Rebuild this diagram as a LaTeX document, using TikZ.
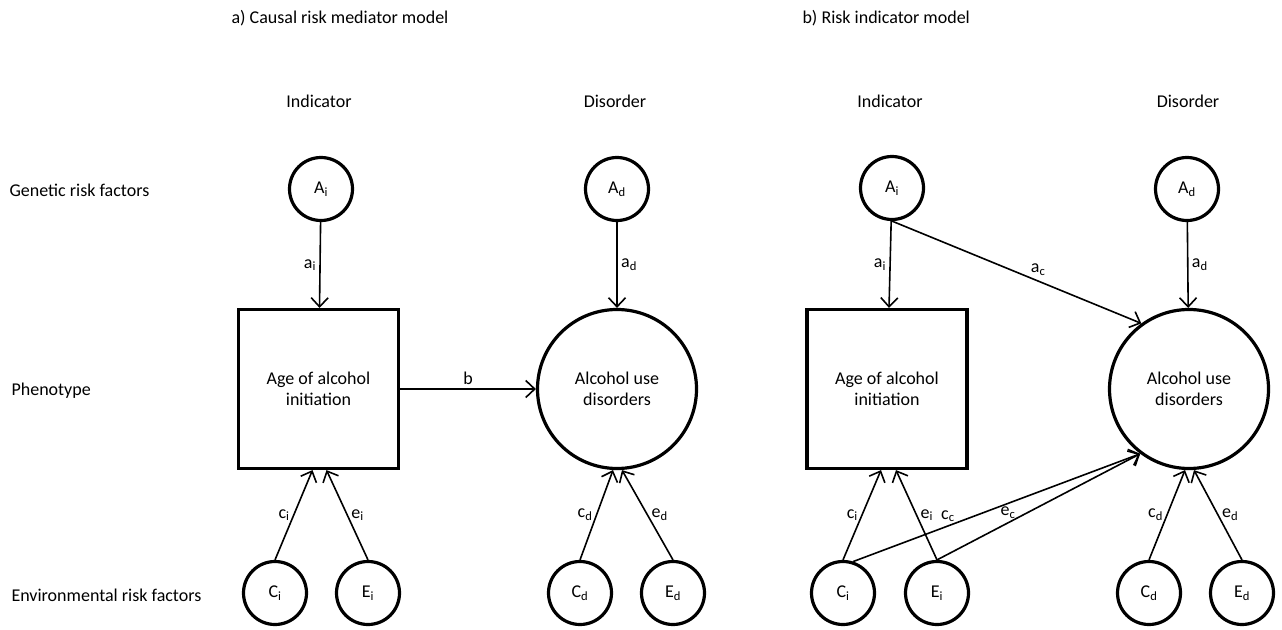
\documentclass[tikz,border=0pt]{standalone}
\usepackage{fontspec}
\setmainfont{Carlito}
\usetikzlibrary{arrows.meta}

\begin{document}
\begin{tikzpicture}[x=1pt,y=-1pt,font=\fontsize{18}{21.5}\selectfont]
\tikzset{
	f/.style={circle, draw=black, line width=3.2pt, minimum size=63pt, inner sep=0pt},
	ph/.style={draw=black, line width=3.2pt, minimum width=160pt, minimum height=159pt, align=center},
	big/.style={circle, draw=black, line width=3.2pt, minimum size=159pt, inner sep=0pt, align=center},
	p/.style={-{Straight Barb[length=9pt,width=17pt]}, line width=1.6pt}
}
\useasboundingbox (0,0) rectangle (1282,629);

% titles
\node[anchor=west] (ta) at (228,18) {a) Causal risk mediator model};
\node[anchor=west] (tb) at (799,18) {b) Risk indicator model};

% column headers
\node (ind1) at (319,101) {Indicator};
\node (dis1) at (615,101) {Disorder};
\node (ind2) at (890,101) {Indicator};
\node (dis2) at (1188,101) {Disorder};

% row labels
\node[anchor=west] (rg) at (6,190) {Genetic risk factors};
\node[anchor=west] (rp) at (8,391) {Phenotype};
\node[anchor=west] (re) at (8,595) {Environmental risk factors};

% a) nodes
\node[f] (Ai1) at (321,189) {A\textsubscript{i}};
\node[f] (Ad1) at (617,189) {A\textsubscript{d}};
\node[ph] (age1) at (318.5,389) {Age of alcohol\\initiation};
\node[big] (aud1) at (617,389) {Alcohol use\\disorders};
\node[f] (Ci1) at (275,593) {C\textsubscript{i}};
\node[f] (Ei1) at (368,593) {E\textsubscript{i}};
\node[f] (Cd1) at (580,593) {C\textsubscript{d}};
\node[f] (Ed1) at (673,593) {E\textsubscript{d}};

% a) paths
\draw[p] (Ai1) -- node[left] {a\textsubscript{i}} (age1);
\draw[p] (Ad1) -- node[right] {a\textsubscript{d}} (aud1);
\draw[p] (age1) -- node[above] {b} (aud1);
\draw[p] (Ci1.north) -- node[left] {c\textsubscript{i}} ([xshift=-6pt]age1.south);
\draw[p] (Ei1.north) -- node[right] {e\textsubscript{i}} ([xshift=8pt]age1.south);
\draw[p] (Cd1.north) -- node[left] {c\textsubscript{d}} ([xshift=-4pt]aud1.south);
\draw[p] (Ed1.north) -- node[right] {e\textsubscript{d}} ([xshift=5pt]aud1.south);

% b) nodes
\node[f] (Ai2) at (892,188) {A\textsubscript{i}};
\node[f] (Ad2) at (1187,189) {A\textsubscript{d}};
\node[ph] (age2) at (887,389) {Age of alcohol\\initiation};
\node[big] (aud2) at (1189,389) {Alcohol use\\disorders};
\node[f] (Ci2) at (843,593) {C\textsubscript{i}};
\node[f] (Ei2) at (937,593) {E\textsubscript{i}};
\node[f] (Cd2) at (1149,593) {C\textsubscript{d}};
\node[f] (Ed2) at (1242,593) {E\textsubscript{d}};

% b) paths
\draw[p] (Ai2) -- node[left] {a\textsubscript{i}} (age2);
\draw[p] (Ad2) -- node[right] {a\textsubscript{d}} (aud2);
\draw[p] (Ai2.south) -- node[pos=0.55, above right, inner sep=1pt] {a\textsubscript{c}} (aud2.126);
\draw[p] (Ci2.north) -- node[left] {c\textsubscript{i}} ([xshift=-6pt]age2.south);
\draw[p] (Ei2.north) -- node[right] {e\textsubscript{i}} ([xshift=9pt]age2.south);
\draw[p] (Ci2.72) -- node[pos=0.33, above] {c\textsubscript{c}} (aud2.233);
\draw[p] (Ei2.north) -- node[pos=0.35, above] {e\textsubscript{c}} (aud2.233);
\draw[p] (Cd2.north) -- node[left] {c\textsubscript{d}} ([xshift=-4pt]aud2.south);
\draw[p] (Ed2.north) -- node[right] {e\textsubscript{d}} ([xshift=5pt]aud2.south);

\end{tikzpicture}
\end{document}
